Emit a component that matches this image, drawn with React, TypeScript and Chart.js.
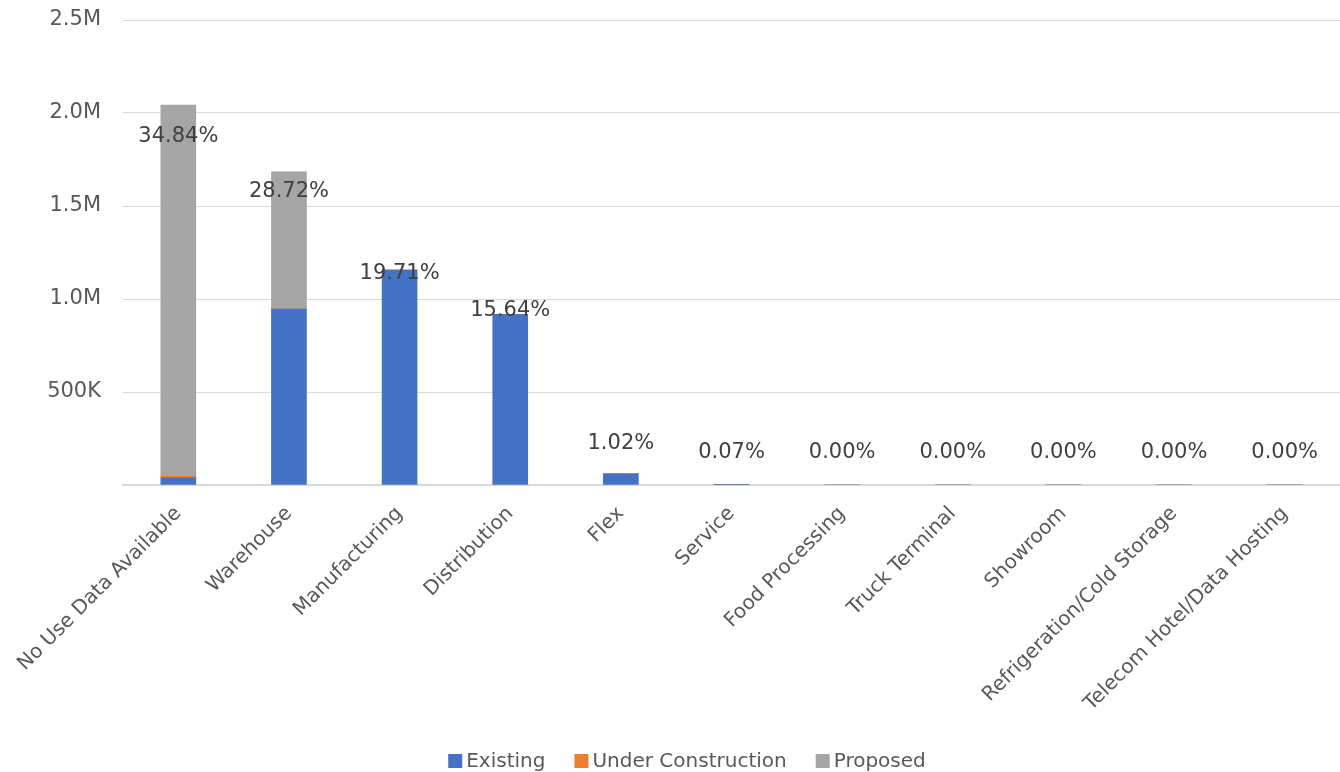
import React, { useEffect, useRef } from "react";
import { Chart, registerables } from "chart.js";

Chart.register(...registerables);

const categories = [
  "No Use Data Available",
  "Warehouse",
  "Manufacturing",
  "Distribution",
  "Flex",
  "Service",
  "Food Processing",
  "Truck Terminal",
  "Showroom",
  "Refrigeration/Cold Storage",
  "Telecom Hotel/Data Hosting",
];
const existing = [38000, 946000, 1156000, 917000, 59800, 4100, 0, 0, 0, 0, 0];
const underConstruction = [8000, 0, 0, 0, 0, 0, 0, 0, 0, 0, 0];
const proposed = [1997000, 738000, 0, 0, 0, 0, 0, 0, 0, 0, 0];
const yTicks = [0, 500000, 1000000, 1500000, 2000000, 2500000];

const FONT = "'DejaVu Sans', 'Liberation Sans', sans-serif";
const TXT = "#595959";

export default function App() {
  const ref = useRef<HTMLCanvasElement | null>(null);
  useEffect(() => {
    document.body.style.margin = "0";
    const totals = categories.map((_, i) => existing[i] + underConstruction[i] + proposed[i]);
    const grand = totals.reduce((a, b) => a + b, 0);
    const labelPlugin = {
      id: "totLabels",
      afterDatasetsDraw(chart: any) {
        const ctx = chart.ctx;
        const x = chart.scales.x;
        const y2 = chart.scales.y2;
        ctx.save();
        ctx.font = `21px ${FONT}`;
        ctx.fillStyle = "#404040";
        ctx.textAlign = "center";
        ctx.textBaseline = "middle";
        totals.forEach((t, i) => {
          const px = x.getPixelForValue(i);
          const py = y2.getPixelForValue(t) - 32;
          ctx.fillText(((t / grand) * 100).toFixed(2) + "%", px, py);
        });
        ctx.restore();
      },
    };
    const legendPlugin = {
      id: "customLegend",
      afterDraw(chart: any) {
        const ctx = chart.ctx;
        const items = chart.data.datasets.filter((d: any) => d.label !== "_total");
        ctx.save();
        ctx.font = `20px ${FONT}`;
        ctx.textBaseline = "middle";
        const box = 14;
        const gap = 4;
        const spacing = 29;
        const widths = items.map((d: any) => box + gap + ctx.measureText(d.label).width);
        const total = widths.reduce((a: number, b: number) => a + b, 0) + spacing * (items.length - 1);
        let xx = 687 - total / 2;
        const cy = 761;
        items.forEach((d: any, i: number) => {
          ctx.fillStyle = d.backgroundColor;
          ctx.fillRect(xx, cy - box / 2, box, box);
          ctx.fillStyle = TXT;
          ctx.textAlign = "left";
          ctx.fillText(d.label, xx + box + gap, cy + 1);
          xx += widths[i] + spacing;
        });
        ctx.restore();
      },
    };
    const chart = new Chart(ref.current!, {
      type: "bar",
      data: {
        labels: categories,
        datasets: [
          { label: "Existing", data: existing, backgroundColor: "#4472C4", stack: "s", yAxisID: "y" },
          { label: "Under Construction", data: underConstruction, backgroundColor: "#ED7D31", stack: "s", yAxisID: "y" },
          { label: "Proposed", data: proposed, backgroundColor: "#A5A5A5", stack: "s", yAxisID: "y" },
          {
            type: "line" as any,
            label: "_total",
            data: totals,
            yAxisID: "y2",
            borderColor: "transparent",
            backgroundColor: "transparent",
            pointRadius: 0,
            showLine: false,
          } as any,
        ],
      },
      options: {
        animation: false,
        responsive: false,
        maintainAspectRatio: false,
        layout: { padding: { top: 20, right: 0, left: 0, bottom: 0 } },
        datasets: { bar: { barThickness: 35 } },
        plugins: {
          tooltip: { enabled: false },
          legend: { display: false },
        },
        scales: {
          x: {
            stacked: true,
            grid: { display: false },
            border: { color: "#D9D9D9", width: 2 },
            ticks: {
              color: TXT,
              font: { family: FONT, size: 20 },
              maxRotation: 45,
              minRotation: 45,
              autoSkip: false,
              padding: 9,
            },
            afterFit: (s: any) => {
              s.height = 287;
              s.paddingLeft = 0;
              s.paddingRight = 0;
            },
          },
          y: {
            stacked: true,
            min: 0,
            max: 2500000,
            afterBuildTicks: (s: any) => {
              s.ticks = yTicks.map((v) => ({ value: v }));
            },
            grid: { color: "#D9D9D9", drawTicks: false },
            border: { display: false },
            ticks: {
              color: TXT,
              font: { family: FONT, size: 21 },
              padding: 22,
              callback: (v: any) => {
                const n = Number(v);
                if (n === 0) return "";
                if (n >= 1000000) return (n / 1000000).toFixed(1) + "M";
                return n / 1000 + "K";
              },
            },
            afterFit: (s: any) => {
              s.width = 123;
              s.paddingTop = 0;
              s.paddingBottom = 0;
            },
          },
          y2: {
            display: false,
            min: 0,
            max: 3000000,
          },
        },
      },
      plugins: [labelPlugin, legendPlugin],
    });
    return () => chart.destroy();
  }, []);
  return (
    <div style={{ position: "fixed", left: 0, top: 0, width: 1340, height: 772 }}>
      <canvas ref={ref} width={1340} height={772} style={{ width: 1340, height: 772 }} />
    </div>
  );
}
